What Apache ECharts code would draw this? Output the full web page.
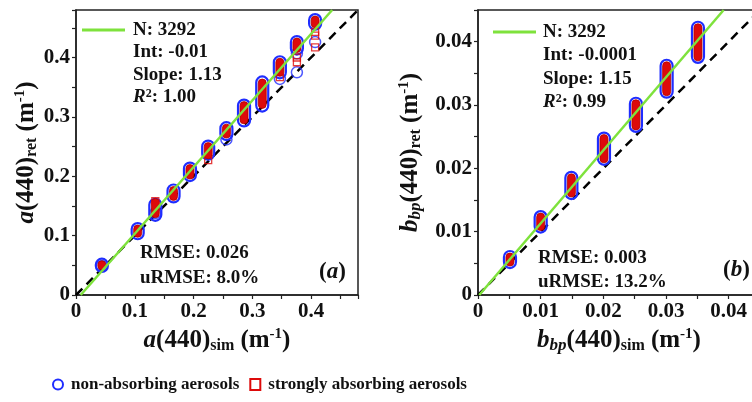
<!DOCTYPE html>
<html>
<head>
<meta charset="utf-8">
<script src="https://cdn.jsdelivr.net/npm/echarts@6/dist/echarts.min.js"></script>
<style>
  html, body { margin: 0; padding: 0; background: #fff; overflow: hidden; }
  /* the right panel runs a little past the picture's edge, as in the source figure */
  #chart { width: 760px; height: 402px; }
</style>
</head>
<body>
<div id="chart"></div>
<script>
// panel (a): a(440) clusters, x = simulated, [lo, hi] = spread of retrieved values
const aSimX    = [0.044, 0.105, 0.135, 0.166, 0.194, 0.225, 0.256, 0.286, 0.317, 0.347, 0.376, 0.407];
const aBlueLo  = [0.049, 0.104, 0.135, 0.166, 0.202, 0.238, 0.271, 0.294, 0.319, 0.375, 0.415, 0.457];
const aBlueHi  = [0.051, 0.111, 0.152, 0.176, 0.213, 0.250, 0.281, 0.319, 0.358, 0.392, 0.426, 0.463];
const aRedLo   = [0.049, 0.104, 0.137, 0.166, 0.202, 0.236, 0.271, 0.295, 0.321, 0.375, 0.415, 0.457];
const aRedHi   = [0.051, 0.111, 0.156, 0.176, 0.213, 0.250, 0.281, 0.319, 0.357, 0.392, 0.426, 0.463];
// single points that fall away from the clusters
const aBlueOut = [[0.407, 0.426], [0.376, 0.375], [0.376, 0.407], [0.347, 0.364], [0.256, 0.262], [0.135, 0.138], [0.044, 0.049]];
const aRedOut  = [[0.407, 0.443], [0.407, 0.437], [0.407, 0.417], [0.376, 0.400], [0.376, 0.392], [0.347, 0.367], [0.225, 0.227], [0.135, 0.158]];
const aOneToOne = [[0, 0], [0.48, 0.48]];
const aFit      = [[0.008, 0], [0.436, 0.48]];

// panel (b): bbp(440)
const bSimX   = [0.0051, 0.0100, 0.0149, 0.0201, 0.0252, 0.0301, 0.0351];
const bBlueLo = [0.0052, 0.0108, 0.0161, 0.0215, 0.0267, 0.0321, 0.0376];
const bBlueHi = [0.0060, 0.0123, 0.0185, 0.0247, 0.0302, 0.0362, 0.0422];
const bOneToOne = [[0, 0], [0.045, 0.045]];
const bFit      = [[0.0002, 0], [0.0392, 0.045]];

const statsA = ['N: 3292', 'Int: -0.01', 'Slope: 1.13', '1.00'];
const statsB = ['N: 3292', 'Int: -0.0001', 'Slope: 1.15', '0.99'];
const errA = ['RMSE: 0.026', 'uRMSE: 8.0%'];
const errB = ['RMSE: 0.003', 'uRMSE: 13.2%'];

const BLUE = '#1f2dff';
const RED = '#dd0a0a';
const GREEN = '#7ee23c';
const FONT = '"Liberation Serif", "DejaVu Serif", serif';

let chart = echarts.init(document.getElementById('chart'));

function capsule(r, fill, stroke, lw) {
    return function (params, api) {
        let top = api.coord([api.value(0), api.value(2)]);
        let bot = api.coord([api.value(0), api.value(1)]);
        return {
            type: 'rect',
            shape: { x: top[0] - r, y: top[1] - r, width: 2 * r, height: bot[1] - top[1] + 2 * r, r: r },
            style: { fill: fill, stroke: stroke, lineWidth: lw }
        };
    };
}

function axisBase(extra) {
    return Object.assign({
        type: 'value',
        min: 0,
        axisLine: { show: true, onZero: false, lineStyle: { color: '#222', width: 1.5 } },
        axisTick: { show: true, inside: false, length: 4, lineStyle: { color: '#222', width: 1.2 } },
        minorTick: { show: true, splitNumber: 2, length: 4, lineStyle: { color: '#222', width: 1.2 } },
        splitLine: { show: false },
        axisLabel: {
            color: '#111', fontFamily: FONT, fontWeight: 'bold', fontSize: 21, margin: 6,
            showMaxLabel: false
        },
        nameLocation: 'middle',
        nameTextStyle: {
            rich: {
                n: { fontFamily: FONT, fontWeight: 'bold', fontSize: 25, color: '#111', lineHeight: 27 },
                i: { fontFamily: FONT, fontWeight: 'bold', fontStyle: 'italic', fontSize: 25, color: '#111', lineHeight: 27 },
                si: { fontFamily: FONT, fontWeight: 'bold', fontStyle: 'italic', fontSize: 17, color: '#111', verticalAlign: 'bottom' },
                sub: { fontFamily: FONT, fontWeight: 'bold', fontSize: 16, color: '#111', verticalAlign: 'bottom' },
                sup: { fontFamily: FONT, fontWeight: 'bold', fontSize: 15, color: '#111', verticalAlign: 'top' }
            }
        }
    }, extra);
}

function fmt(d) {
    return function (v) { return v === 0 ? '0' : v.toFixed(d); };
}

function statText(lines, x, y0, dy) {
    let out = [];
    for (let k = 0; k < 3; k++) {
        out.push({ type: 'text', x: x, y: y0 + dy * k,
            style: { text: lines[k], font: 'bold 19px ' + FONT, fill: '#111', verticalAlign: 'middle' } });
    }
    out.push({ type: 'text', x: x, y: y0 + dy * 3,
        style: {
            text: '{i|R}{s|2}{n|: ' + lines[3] + '}', verticalAlign: 'middle',
            rich: {
                i: { fontFamily: FONT, fontWeight: 'bold', fontStyle: 'italic', fontSize: 19, fill: '#111', lineHeight: 20 },
                s: { fontFamily: FONT, fontWeight: 'bold', fontSize: 12, fill: '#111', verticalAlign: 'top' },
                n: { fontFamily: FONT, fontWeight: 'bold', fontSize: 19, fill: '#111', lineHeight: 20 }
            }
        } });
    return out;
}

function plainText(txt, x, y) {
    return { type: 'text', x: x, y: y, style: { text: txt, font: 'bold 19px ' + FONT, fill: '#111', verticalAlign: 'middle' } };
}

function panelLabel(letter, x, y) {
    return { type: 'text', x: x, y: y,
        style: {
            text: '{n|(}{i|' + letter + '}{n|)}', verticalAlign: 'middle',
            rich: {
                n: { fontFamily: FONT, fontWeight: 'bold', fontSize: 23, fill: '#111' },
                i: { fontFamily: FONT, fontWeight: 'bold', fontStyle: 'italic', fontSize: 23, fill: '#111' }
            }
        } };
}

let graphics = [
    { type: 'line', shape: { x1: 82, y1: 30, x2: 125, y2: 30 }, style: { stroke: GREEN, lineWidth: 3 } },
    { type: 'line', shape: { x1: 493, y1: 32, x2: 536, y2: 32 }, style: { stroke: GREEN, lineWidth: 3 } }
]
    .concat(statText(statsA, 133, 30, 22.5))
    .concat(statText(statsB, 543, 32, 23.5))
    .concat([
        plainText(errA[0], 140, 253), plainText(errA[1], 140, 278),
        plainText(errB[0], 538, 258), plainText(errB[1], 538, 282),
        panelLabel('a', 319, 272), panelLabel('b', 723, 270)
    ]);

let option = {
    animation: false,
    backgroundColor: '#fff',
    grid: [
        { left: 76, top: 10, width: 282, height: 285, show: true, borderColor: '#222', borderWidth: 1.5 },
        { left: 478, top: 10, width: 282, height: 285, show: true, borderColor: '#222', borderWidth: 1.5 }
    ],
    xAxis: [
        axisBase({ gridIndex: 0, max: 0.48, interval: 0.1, nameGap: 28,
            axisLabel: Object.assign({}, axisBase({}).axisLabel, { formatter: fmt(1) }),
            name: '{i|a}{n|(440)}{sub|sim}{n| (m}{sup|-1}{n|)}' }),
        axisBase({ gridIndex: 1, max: 0.045, interval: 0.01, nameGap: 28,
            axisLabel: Object.assign({}, axisBase({}).axisLabel, { formatter: fmt(2) }),
            name: '{i|b}{si|bp}{n|(440)}{sub|sim}{n| (m}{sup|-1}{n|)}' })
    ],
    yAxis: [
        axisBase({ gridIndex: 0, max: 0.48, interval: 0.1, nameGap: 35,
            axisLabel: Object.assign({}, axisBase({}).axisLabel, { formatter: fmt(1) }),
            name: '{i|a}{n|(440)}{sub|ret}{n| (m}{sup|-1}{n|)}' }),
        axisBase({ gridIndex: 1, max: 0.045, interval: 0.01, nameGap: 54,
            axisLabel: Object.assign({}, axisBase({}).axisLabel, { formatter: fmt(2) }),
            name: '{i|b}{si|bp}{n|(440)}{sub|ret}{n| (m}{sup|-1}{n|)}' })
    ],
    legend: {
        left: 47, top: 371, itemWidth: 10, itemHeight: 11, itemGap: 10, selectedMode: false,
        textStyle: { fontFamily: FONT, fontWeight: 'bold', fontSize: 17, color: '#111', padding: [0, 0, 0, 3] },
        data: [
            { name: 'non-absorbing aerosols', icon: 'circle', itemStyle: { color: '#fff', borderColor: BLUE, borderWidth: 2 } },
            { name: 'strongly absorbing aerosols', icon: 'rect', itemStyle: { color: '#fff', borderColor: RED, borderWidth: 2 } }
        ]
    },
    graphic: graphics,
    series: [
        // panel a
        { type: 'line', xAxisIndex: 0, yAxisIndex: 0, data: aOneToOne, symbol: 'none', silent: true, z: 1,
          lineStyle: { color: '#000', width: 2.5, type: [9, 6] } },
        { name: 'non-absorbing aerosols', type: 'custom', xAxisIndex: 0, yAxisIndex: 0, z: 2, clip: true,
          itemStyle: { color: BLUE },
          data: aSimX.map((x, i) => [x, aBlueLo[i], aBlueHi[i]]), renderItem: capsule(6, 'none', BLUE, 2.2) },
        { name: 'non-absorbing aerosols', type: 'scatter', xAxisIndex: 0, yAxisIndex: 0, z: 2, data: aBlueOut,
          symbol: 'circle', symbolSize: 11, itemStyle: { color: 'transparent', borderColor: BLUE, borderWidth: 1.5 } },
        { name: 'strongly absorbing aerosols', type: 'custom', xAxisIndex: 0, yAxisIndex: 0, z: 3, clip: true,
          itemStyle: { color: RED },
          data: aSimX.map((x, i) => [x, aRedLo[i], aRedHi[i]]), renderItem: capsule(4, RED, '#b00000', 0.8) },
        { name: 'strongly absorbing aerosols', type: 'scatter', xAxisIndex: 0, yAxisIndex: 0, z: 3, data: aRedOut,
          symbol: 'rect', symbolSize: 7, itemStyle: { color: 'transparent', borderColor: RED, borderWidth: 1.3 } },
        { type: 'line', xAxisIndex: 0, yAxisIndex: 0, data: aFit, symbol: 'none', silent: true, z: 4,
          lineStyle: { color: GREEN, width: 2.5 } },
        // panel b
        { type: 'line', xAxisIndex: 1, yAxisIndex: 1, data: bOneToOne, symbol: 'none', silent: true, z: 1,
          lineStyle: { color: '#000', width: 2.5, type: [9, 6] } },
        { name: 'non-absorbing aerosols', type: 'custom', xAxisIndex: 1, yAxisIndex: 1, z: 2, clip: true,
          itemStyle: { color: BLUE },
          data: bSimX.map((x, i) => [x, bBlueLo[i], bBlueHi[i]]), renderItem: capsule(6, 'none', BLUE, 2.2) },
        { name: 'strongly absorbing aerosols', type: 'custom', xAxisIndex: 1, yAxisIndex: 1, z: 3, clip: true,
          itemStyle: { color: RED },
          data: bSimX.map((x, i) => [x, bBlueLo[i], bBlueHi[i]]), renderItem: capsule(4, RED, '#b00000', 0.8) },
        { type: 'line', xAxisIndex: 1, yAxisIndex: 1, data: bFit, symbol: 'none', silent: true, z: 4,
          lineStyle: { color: GREEN, width: 2.5 } }
    ]
};

chart.setOption(option);
</script>
</body>
</html>
